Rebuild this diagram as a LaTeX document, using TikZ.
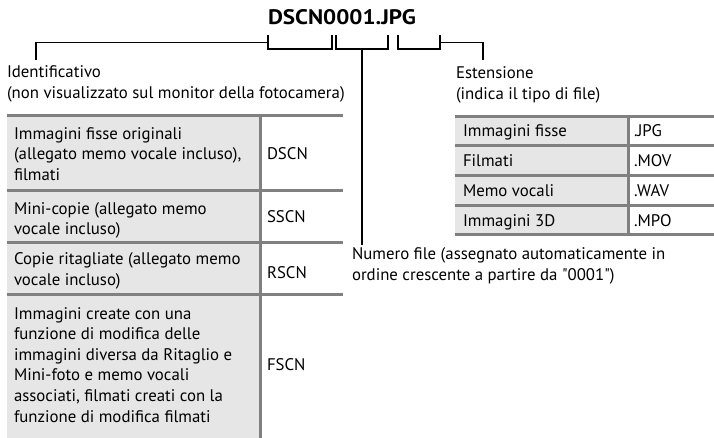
\documentclass[tikz,border=0pt]{standalone}
\usepackage{fontspec}
\setmainfont{PT Sans}[Ligatures=TeXOff]
\usepackage{graphicx}
\definecolor{bordergray}{RGB}{128,128,128}
\definecolor{cellgray}{RGB}{230,230,230}
\tikzset{
  txt/.style={anchor=base west, inner sep=0pt, outer sep=0pt, align=left,
    font=\fontsize{16.8}{20.6}\selectfont},
  bracketline/.style={draw=black, line width=1.7pt},
  rule/.style={draw=bordergray, line width=3pt},
  cellfill/.style={fill=cellgray},
}
\begin{document}
\begin{tikzpicture}[x=1pt,y=-1pt]
\useasboundingbox (0,0) rectangle (714,438);
\fill[white] (0,0) rectangle (714,438);

% ---------- title ----------
\node[anchor=base, inner sep=0pt] (title) at (342,25)
  {\resizebox{148pt}{15pt}{\bfseries DSCN0001.JPG}};

% ---------- bracket coordinates ----------
\coordinate (a1) at (268,35); \coordinate (a1b) at (268,49);
\coordinate (a2) at (332,35); \coordinate (a2b) at (332,49);
\coordinate (b1) at (336,35); \coordinate (b1b) at (336,49);
\coordinate (b2) at (388,35); \coordinate (b2b) at (388,49);
\coordinate (c1) at (398,35); \coordinate (c1b) at (398,49);
\coordinate (c2) at (440,35); \coordinate (c2b) at (440,49);
\coordinate (amid) at (268,42.5);
\coordinate (cmid) at (440,42.5);
\coordinate (bstem) at (362,49);
\coordinate (idcorner) at (36,42.5);
\coordinate (idend) at (36,60);
\coordinate (excorner) at (483,42.5);
\coordinate (exend) at (483,60);
\coordinate (numend) at (362,245);

\draw[bracketline] (a1) -- (a1b) -- (a2b) -- (a2);
\draw[bracketline] (b1) -- (b1b) -- (b2b) -- (b2);
\draw[bracketline] (c1) -- (c1b) -- (c2b) -- (c2);
\draw[bracketline] (amid) -- (idcorner) -- (idend);
\draw[bracketline] (cmid) -- (excorner) -- (exend);
\draw[bracketline] (bstem) -- (numend);

% ---------- labels (base = baseline of the last line) ----------
\node[txt] (ident) at (7,98.6) {Identificativo\\(non visualizzato sul monitor della fotocamera)};
\node[txt] (estens) at (456,99.6) {Estensione\\(indica il tipo di file)};
\node[txt] (numero) at (352,280) {Numero file (assegnato automaticamente in\\ordine crescente a partire da "0001")};

% ---------- left table ----------
\fill[cellfill] (7,116) rectangle (260,438);
\draw[rule] (7,116) -- (343,116);
\draw[rule] (7,191) -- (343,191);
\draw[rule] (7,242.5) -- (343,242.5);
\draw[rule] (7,294) -- (343,294);
\draw[rule] (260,116) -- (260,438);

\node[txt] (l1) at (14,180.5) {Immagini fisse originali\\(allegato memo vocale incluso),\\filmati};
\node[txt] (l2) at (14,235) {Mini-copie (allegato memo\\vocale incluso)};
\node[txt] (l3) at (14,285.5) {Copie ritagliate (allegato memo\\vocale incluso)};
\node[txt] (l4) at (14,422) {Immagini create con una\\funzione di modifica delle\\immagini diversa da Ritaglio e\\Mini-foto e memo vocali\\associati, filmati creati con la\\funzione di modifica filmati};

\node[txt] (p1) at (267,160) {DSCN};
\node[txt] (p2) at (267,223) {SSCN};
\node[txt] (p3) at (267,278) {RSCN};
\node[txt] (p4) at (267,370) {FSCN};

% ---------- right table ----------
\fill[cellfill] (455,116) rectangle (628,235);
\draw[rule] (455,116.5) -- (714,116.5);
\draw[rule] (455,145.5) -- (714,145.5);
\draw[rule] (455,175.5) -- (714,175.5);
\draw[rule] (455,205.5) -- (714,205.5);
\draw[rule] (455,235) -- (714,235);
\draw[rule] (628,116.5) -- (628,235);

\node[txt] (r1) at (463,137) {Immagini fisse};
\node[txt] (r2) at (463,167) {Filmati};
\node[txt] (r3) at (463,197) {Memo vocali};
\node[txt] (r4) at (463,227) {Immagini 3D};
\node[txt] (e1) at (634,137) {.JPG};
\node[txt] (e2) at (634,167) {.MOV};
\node[txt] (e3) at (634,197) {.WAV};
\node[txt] (e4) at (634,227) {.MPO};
\end{tikzpicture}
\end{document}
